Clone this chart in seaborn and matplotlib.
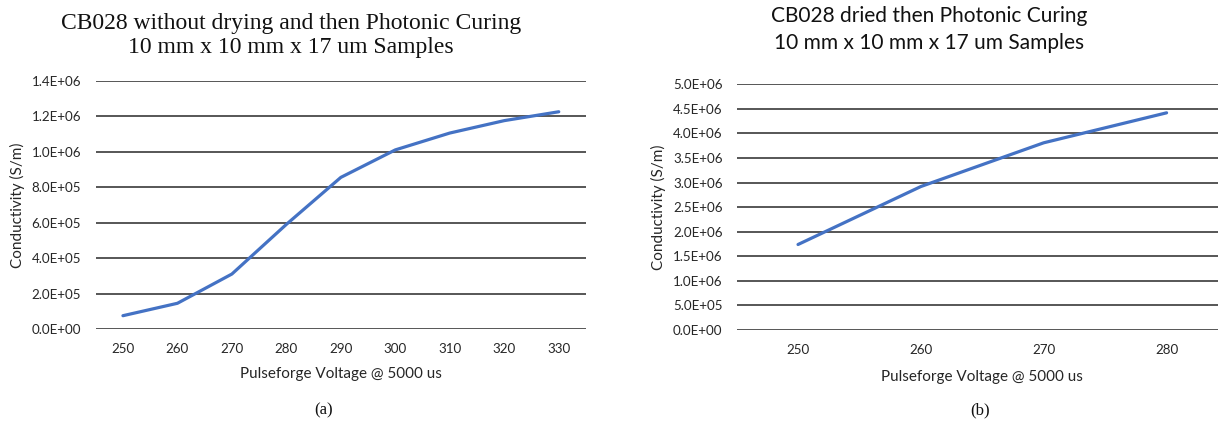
import matplotlib
matplotlib.use("Agg")
import matplotlib.pyplot as plt
from matplotlib.ticker import FuncFormatter, MultipleLocator
import seaborn as sns

# Sample (a): no drying step before photonic curing
voltage_a = [250, 260, 270, 280, 290, 300, 310, 320, 330]
conductivity_a = [7.5e4, 1.45e5, 3.1e5, 5.9e5, 8.55e5, 1.01e6, 1.105e6, 1.175e6, 1.225e6]

# Sample (b): dried, then photonic curing
voltage_b = [250, 260, 270, 280]
conductivity_b = [1.74e6, 2.92e6, 3.81e6, 4.42e6]

title_a = "CB028 without drying and then Photonic Curing\n10 mm x 10 mm x 17 um Samples"
title_b = "CB028 dried then Photonic Curing\n10 mm x 10 mm x 17 um Samples"
xlabel = "Pulseforge Voltage @ 5000 us"
ylabel = "Conductivity (S/m)"

sns.set_theme(style="white")
plt.rcParams["font.family"] = ["Lato", "DejaVu Sans"]

LINE = "#4472C4"
GRID = "#3a3a3a"
TEXT = "#262626"
sci = FuncFormatter(lambda v, _: f"{v:.1E}")

fig = plt.figure(figsize=(12.18, 4.23), dpi=100)
W, H = 1218, 423
PX = 72 / 100  # points per pixel


def make_axes(x0, x1, ytop, ybot):
    return fig.add_axes([x0 / W, 1 - ybot / H, (x1 - x0) / W, (ybot - ytop) / H])


def style(ax, xs, ystep, ymax, box, ytick_gap, ylab_x, xlab_y):
    x0, x1, ytop, ybot = box
    ax.set_xlim(xs[0] - 5, xs[-1] + 5)
    ax.set_ylim(0, ymax)
    ax.set_xticks(xs)
    ax.yaxis.set_major_locator(MultipleLocator(ystep))
    ax.yaxis.set_major_formatter(sci)
    ax.grid(axis="y", color=GRID, linewidth=1.2)
    ax.grid(axis="x", visible=False)
    ax.set_axisbelow(True)
    for s in ax.spines.values():
        s.set_visible(False)
    ax.tick_params(axis="both", length=0, labelsize=9.6, colors=TEXT)
    ax.tick_params(axis="y", pad=ytick_gap * PX)
    ax.tick_params(axis="x", pad=10)
    ax.set_xlabel(xlabel, fontsize=11, color=TEXT)
    ax.set_ylabel(ylabel, fontsize=11, color=TEXT)
    ax.xaxis.set_label_coords(0.5, (ybot - xlab_y) / (ybot - ytop))
    ax.xaxis.label.set_va("center")
    ax.yaxis.set_label_coords((ylab_x - x0) / (x1 - x0), 0.5)
    ax.yaxis.label.set_va("center")


box_a = (95.7, 586, 80.7, 329)
ax_a = make_axes(*box_a)
sns.lineplot(x=voltage_a, y=conductivity_a, ax=ax_a, color=LINE, linewidth=2.3)
style(ax_a, voltage_a, 2e5, 1.4e6 * 1.0001, box_a, 14.5, 17, 374)

box_b = (736.6, 1228, 84.3, 330)
ax_b = make_axes(*box_b)
sns.lineplot(x=voltage_b, y=conductivity_b, ax=ax_b, color=LINE, linewidth=2.3)
style(ax_b, voltage_b, 5e5, 5.0e6 * 1.0001, box_b, 14, 658, 377)

serif = ["Liberation Serif", "DejaVu Serif"]
fig.text(291 / W, 1 - 35.5 / H, title_a, ha="center", va="center", fontsize=17,
         family=serif, linespacing=1.2, color="#111111")
fig.text(929 / W, 1 - 29.5 / H, title_b, ha="center", va="center", fontsize=15,
         linespacing=1.45, color="#111111")
fig.text(324 / W, 1 - 410 / H, "(a)", ha="center", va="center", fontsize=12,
         family=serif, color="#111111")
fig.text(980 / W, 1 - 410 / H, "(b)", ha="center", va="center", fontsize=12,
         family=serif, color="#111111")

fig.savefig("out.png", dpi=100)
